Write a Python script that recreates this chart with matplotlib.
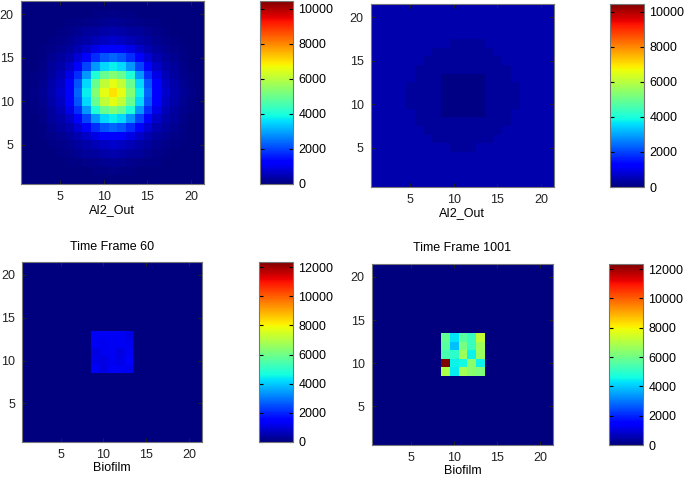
import numpy as np
import matplotlib.pyplot as plt

plt.rcParams['font.family'] = ['Liberation Sans', 'DejaVu Sans']
plt.rcParams['font.size'] = 9

# AI2_Out, first frame (rows y=1..21, columns x=1..21)
ai2_early = [
    [0, 0, 0, 0, 0, 0, 10, 10, 20, 30, 40, 30, 20, 10, 10, 0, 0, 0, 0, 0, 0],
    [0, 0, 0, 0, 10, 20, 30, 40, 60, 80, 90, 80, 60, 40, 30, 20, 10, 0, 0, 0, 0],
    [0, 0, 0, 10, 30, 50, 80, 120, 160, 200, 230, 200, 160, 120, 80, 50, 30, 10, 0, 0, 0],
    [0, 0, 10, 30, 60, 110, 180, 250, 320, 380, 420, 380, 320, 250, 180, 110, 60, 30, 10, 0, 0],
    [0, 10, 30, 60, 120, 200, 300, 400, 530, 650, 700, 650, 530, 400, 300, 200, 120, 60, 30, 10, 0],
    [0, 20, 50, 110, 200, 300, 460, 680, 960, 1180, 1260, 1180, 960, 680, 460, 300, 200, 110, 50, 20, 0],
    [10, 30, 80, 180, 300, 460, 780, 1260, 1780, 2180, 2340, 2180, 1780, 1260, 780, 460, 300, 180, 80, 30, 10],
    [10, 40, 120, 250, 400, 680, 1260, 2040, 2870, 3530, 3780, 3530, 2870, 2040, 1260, 680, 400, 250, 120, 40, 10],
    [20, 60, 160, 320, 530, 960, 1780, 2870, 4050, 4970, 5320, 4970, 4050, 2870, 1780, 960, 530, 320, 160, 60, 20],
    [30, 80, 200, 380, 650, 1180, 2180, 3530, 4970, 6100, 6540, 6100, 4970, 3530, 2180, 1180, 650, 380, 200, 80, 30],
    [40, 90, 230, 420, 700, 1260, 2340, 3780, 5320, 6540, 7000, 6540, 5320, 3780, 2340, 1260, 700, 420, 230, 90, 40],
    [30, 80, 200, 380, 650, 1180, 2180, 3530, 4970, 6100, 6540, 6100, 4970, 3530, 2180, 1180, 650, 380, 200, 80, 30],
    [20, 60, 160, 320, 530, 960, 1780, 2870, 4050, 4970, 5320, 4970, 4050, 2870, 1780, 960, 530, 320, 160, 60, 20],
    [10, 40, 120, 250, 400, 680, 1260, 2040, 2870, 3530, 3780, 3530, 2870, 2040, 1260, 680, 400, 250, 120, 40, 10],
    [10, 30, 80, 180, 300, 460, 780, 1260, 1780, 2180, 2340, 2180, 1780, 1260, 780, 460, 300, 180, 80, 30, 10],
    [0, 20, 50, 110, 200, 300, 460, 680, 960, 1180, 1260, 1180, 960, 680, 460, 300, 200, 110, 50, 20, 0],
    [0, 10, 30, 60, 120, 200, 300, 400, 530, 650, 700, 650, 530, 400, 300, 200, 120, 60, 30, 10, 0],
    [0, 0, 10, 30, 60, 110, 180, 250, 320, 380, 420, 380, 320, 250, 180, 110, 60, 30, 10, 0, 0],
    [0, 0, 0, 10, 30, 50, 80, 120, 160, 200, 230, 200, 160, 120, 80, 50, 30, 10, 0, 0, 0],
    [0, 0, 0, 0, 10, 20, 30, 40, 60, 80, 90, 80, 60, 40, 30, 20, 10, 0, 0, 0, 0],
    [0, 0, 0, 0, 0, 0, 10, 10, 20, 30, 40, 30, 20, 10, 10, 0, 0, 0, 0, 0, 0],
]

# AI2_Out, later frame (rows y=1..21)
B, C, S = 430, 260, 60
ai2_late = [
    [B] * 21,
    [B] * 21,
    [B] * 21,
    [B] * 21,
    [B] * 9 + [C] * 3 + [B] * 9,
    [B] * 7 + [C] * 7 + [B] * 7,
    [B] * 6 + [C] * 9 + [B] * 6,
    [B] * 5 + [C] * 11 + [B] * 5,
    [B] * 5 + [C] * 3 + [S] * 5 + [C] * 3 + [B] * 5,
    [B] * 4 + [C] * 4 + [S] * 5 + [C] * 4 + [B] * 4,
    [B] * 4 + [C] * 4 + [S] * 5 + [C] * 4 + [B] * 4,
    [B] * 4 + [C] * 4 + [S] * 5 + [C] * 4 + [B] * 4,
    [B] * 5 + [C] * 3 + [S] * 5 + [C] * 3 + [B] * 5,
    [B] * 5 + [C] * 11 + [B] * 5,
    [B] * 6 + [C] * 9 + [B] * 6,
    [B] * 7 + [C] * 7 + [B] * 7,
    [B] * 9 + [C] * 4 + [B] * 8,
    [B] * 21,
    [B] * 21,
    [B] * 21,
    [B] * 21,
]

# Biofilm 5x5 patch at x=9..13, y=9..13 (rows y=9..13)
patch_cols = [9, 10, 11, 12, 13]
patch_rows = [9, 10, 11, 12, 13]
biofilm_60 = [
    [1300, 1100, 1300, 1300, 1250],
    [1150, 1100, 1250, 1150, 1550],
    [1100, 1250, 1300, 1100, 1300],
    [1300, 1250, 1300, 1300, 1250],
    [1300, 1300, 1300, 1300, 1150],
]
biofilm_1001 = [
    [6900, 4400, 6800, 6400, 6200],
    [12350, 4500, 4600, 6400, 4500],
    [5400, 5000, 6700, 4500, 6600],
    [5600, 3900, 6100, 5200, 6700],
    [5800, 4300, 5600, 5200, 7200],
]


def full_grid(patch):
    g = np.zeros((21, 21))
    g[patch_rows[0] - 1:patch_rows[-1], patch_cols[0] - 1:patch_cols[-1]] = patch
    return g


fig = plt.figure(figsize=(6.85, 4.78), dpi=100)
W, H = 685, 478


def panel(data, box, cbox, vmax, xlabel, title=None, cticks=None):
    l, t, r, b = box
    ax = fig.add_axes([l / W, 1 - b / H, (r - l) / W, (b - t) / H])
    im = ax.imshow(np.asarray(data), origin='lower', cmap='jet', vmin=0, vmax=vmax,
                   extent=(0.5, 21.5, 0.5, 21.5), aspect='auto', interpolation='nearest')
    ax.set_xticks([5, 10, 15, 20])
    ax.set_yticks([5, 10, 15, 20])
    ax.tick_params(direction='in', length=3, top=True, right=True, pad=5, colors='#222222')
    for s in ax.spines.values():
        s.set_color('#777777')
        s.set_linewidth(0.8)
    ax.set_xlabel(xlabel, labelpad=1)
    if title:
        ax.set_title(title, fontsize=9, pad=9)
    cl, ct, cr, cb = cbox
    cax = fig.add_axes([cl / W, 1 - cb / H, (cr - cl) / W, (cb - ct) / H])
    cbar = fig.colorbar(im, cax=cax)
    cbar.set_ticks(cticks)
    cax.tick_params(direction='in', length=3, left=True, right=True, pad=4)
    cbar.outline.set_edgecolor('#777777')
    cbar.outline.set_linewidth(0.8)


top_ticks = [0, 2000, 4000, 6000, 8000, 10000]
bot_ticks = [0, 2000, 4000, 6000, 8000, 10000, 12000]

panel(ai2_early, (20.7, 1, 204, 184), (260, 1, 293, 184), 10450, 'AI2_Out', cticks=top_ticks)
panel(ai2_late, (370.7, 4, 554, 187), (610, 4, 644, 187), 10450, 'AI2_Out', cticks=top_ticks)
panel(full_grid(biofilm_60), (22, 262, 202, 442), (259, 262, 293, 442), 12350, 'Biofilm',
      title='Time Frame 60', cticks=bot_ticks)
panel(full_grid(biofilm_1001), (371.7, 264, 553, 445), (609, 264, 643, 445), 12350, 'Biofilm',
      title='Time Frame 1001', cticks=bot_ticks)

fig.savefig('out.png', dpi=100)
